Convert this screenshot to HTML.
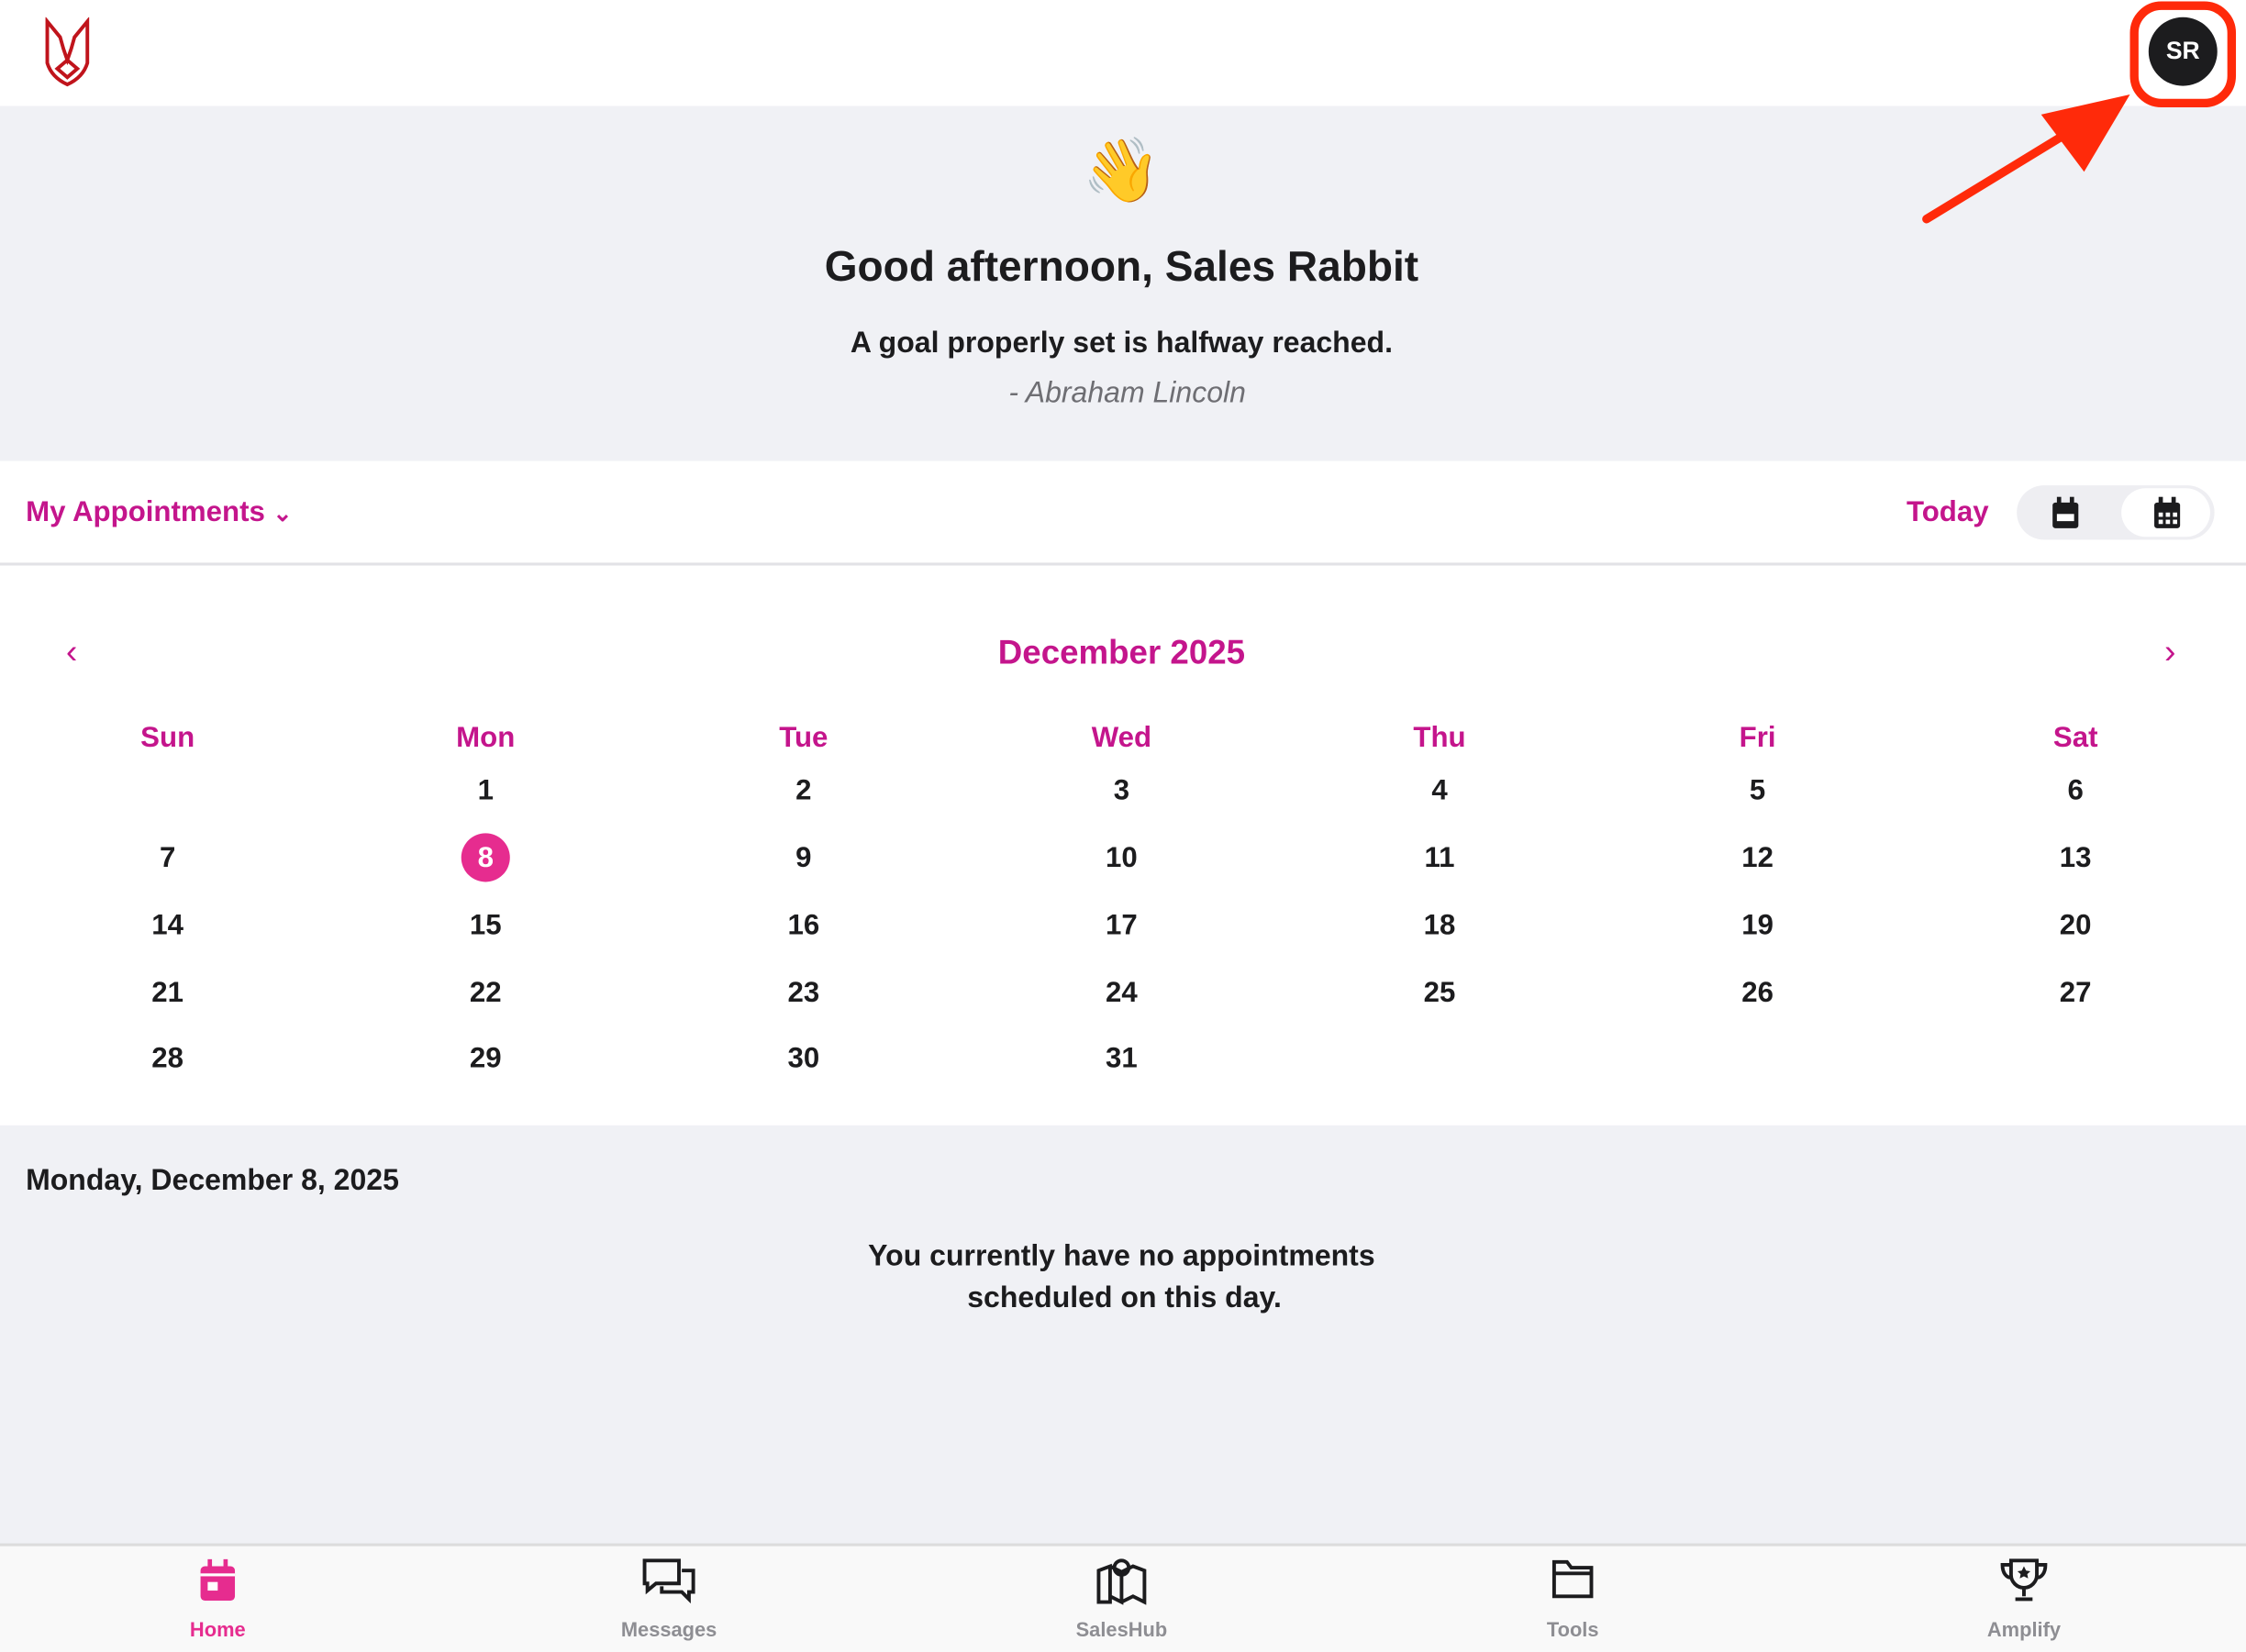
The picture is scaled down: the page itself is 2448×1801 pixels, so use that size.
<!DOCTYPE html>
<html><head><meta charset="utf-8"><style>
html,body{margin:0;padding:0;width:2448px;height:1798px;overflow:hidden;background:#fff}
#w{position:absolute;left:0;top:0;width:1568px;height:1152px;transform:scale(1.5612,1.5608);transform-origin:0 0;font-family:"Liberation Sans",sans-serif;color:#1c1c1e}
.a{position:absolute}
.c{position:absolute;transform:translate(-50%,-50%);white-space:nowrap}
.m{color:#c4158c}
.d{font-size:20px;font-weight:600}
</style></head><body><div id="w">
<div class="a" style="left:0;top:0;width:1568px;height:74px;background:#fff"></div>
<svg class="a" style="left:28px;top:12px" width="38" height="50" viewBox="0 0 38 50"><path d="M5 3 L5 32 Q8 42 19 47 Q30 42 33 32 L33 3 L24 14 Q22 22 19 30 Q16 22 14 14 Z M19 30 L12 36 L19 42 L26 36 Z" fill="none" stroke="#c0141c" stroke-width="2.5"/></svg>
<div class="a" style="left:0;top:74px;width:1568px;height:248px;background:#f0f1f5"></div>
<div class="c" style="left:783px;top:119px;font-size:44px">👋</div>
<div class="c" style="left:783px;top:187px;font-size:29.5px;font-weight:bold">Good afternoon, Sales Rabbit</div>
<div class="c" style="left:783px;top:240px;font-size:20.5px;font-weight:600">A goal properly set is halfway reached.</div>
<div class="c" style="left:787px;top:275px;font-size:20.5px;font-style:italic;color:#6e6e73">- Abraham Lincoln</div>
<div class="a" style="left:0;top:322px;width:1568px;height:71px;background:#fff;border-bottom:2px solid #e2e2e6"></div>
<div class="a m" style="left:18px;top:347px;font-size:20px;font-weight:600">My Appointments <span style="font-size:16px">&#8964;</span></div>
<div class="a m" style="left:1331px;top:347px;font-size:20px;font-weight:600">Today</div>
<div class="a" style="left:1408px;top:339px;width:138px;height:38px;border-radius:19px;background:#eeeef2"></div>
<div class="a" style="left:1481px;top:341px;width:62px;height:34px;border-radius:17px;background:#fff"></div>
<svg class="a" style="left:1431px;top:347px" width="22" height="24"><rect x="2" y="4" width="18" height="18" rx="2" fill="#1c1c1e"/><rect x="5" y="0" width="3" height="6" fill="#1c1c1e"/><rect x="14" y="0" width="3" height="6" fill="#1c1c1e"/><rect x="5" y="12" width="12" height="5" fill="#fff"/></svg>
<svg class="a" style="left:1502px;top:347px" width="22" height="24"><rect x="2" y="4" width="18" height="18" rx="2" fill="#1c1c1e"/><rect x="5" y="0" width="3" height="6" fill="#1c1c1e"/><rect x="14" y="0" width="3" height="6" fill="#1c1c1e"/><g fill="#fff"><rect x="5" y="11" width="3" height="3"/><rect x="10" y="11" width="3" height="3"/><rect x="15" y="11" width="3" height="3"/><rect x="5" y="16" width="3" height="3"/><rect x="10" y="16" width="3" height="3"/><rect x="15" y="16" width="3" height="3"/></g></svg>
<div class="c m" style="left:50px;top:456px;font-size:24px">&#8249;</div>
<div class="c m" style="left:1515px;top:456px;font-size:24px">&#8250;</div>
<div class="c m" style="left:783px;top:456px;font-size:23.5px;font-weight:600">December 2025</div>
<div class="c m" style="left:117px;top:516px;font-size:20px;font-weight:600">Sun</div>
<div class="c m" style="left:339px;top:516px;font-size:20px;font-weight:600">Mon</div>
<div class="c m" style="left:561px;top:516px;font-size:20px;font-weight:600">Tue</div>
<div class="c m" style="left:783px;top:516px;font-size:20px;font-weight:600">Wed</div>
<div class="c m" style="left:1005px;top:516px;font-size:20px;font-weight:600">Thu</div>
<div class="c m" style="left:1227px;top:516px;font-size:20px;font-weight:600">Fri</div>
<div class="c m" style="left:1449px;top:516px;font-size:20px;font-weight:600">Sat</div>
<div class="a" style="left:322px;top:582px;width:34px;height:34px;border-radius:50%;background:#e62c8f"></div>
<div id="days"></div>
<div class="a" style="left:0;top:786px;width:1568px;height:293px;background:#f0f1f5"></div>
<div class="a" style="left:18px;top:813px;font-size:20.5px;font-weight:600">Monday, December 8, 2025</div>
<div class="c" style="left:783px;top:878px;font-size:20.5px;font-weight:600">You currently have no appointments</div>
<div class="c" style="left:785px;top:907px;font-size:20.5px;font-weight:600">scheduled on this day.</div>
<div class="a" style="left:0;top:1078px;width:1568px;height:74px;background:#f9f9f9;border-top:2px solid #dcdcdc"></div>
<svg class="a" style="left:139px;top:1089px" width="26" height="30"><rect x="1" y="5" width="24" height="24" rx="3" fill="#e62c8f"/><rect x="6" y="0" width="3" height="7" fill="#e62c8f"/><rect x="17" y="0" width="3" height="7" fill="#e62c8f"/><rect x="1" y="10" width="24" height="2" fill="#fff"/><rect x="6" y="16" width="7" height="6" fill="#fff"/></svg>
<svg class="a" style="left:448px;top:1088px" width="40" height="32" fill="none" stroke="#1c1c1e" stroke-width="2.5"><path d="M2 2h24v16H10l-6 5v-5H2z"/><path d="M28 9h8v15h-3v5l-5-5H14v-4"/></svg>
<svg class="a" style="left:765px;top:1087px" width="36" height="34" fill="none" stroke="#1c1c1e" stroke-width="2.5"><path d="M2 10l8-3v25l-8 0z M10 7l8 4v21l-8-4 M18 11l8-4 8 3v22l-8-4-8 4"/><circle cx="18" cy="8" r="5"/></svg>
<svg class="a" style="left:1083px;top:1089px" width="30" height="28" fill="none" stroke="#1c1c1e" stroke-width="2.5"><path d="M2 2h9l3 4h14v20H2z M2 10h26"/></svg>
<svg class="a" style="left:1396px;top:1088px" width="34" height="32" fill="none" stroke="#1c1c1e" stroke-width="2.5"><path d="M8 2h18v10a9 9 0 0 1-18 0z M8 5H2c0 6 3 9 6 9 M26 5h6c0 6-3 9-6 9 M17 21v6 M11 29h12"/><path d="M17 6l1.5 3 3 .5-2.2 2 .6 3-2.9-1.5-2.9 1.5.6-3-2.2-2 3-.5z" fill="#1c1c1e" stroke="none"/></svg>
<div class="c" style="left:152px;top:1138px;font-size:14px;font-weight:bold;color:#e62c8f">Home</div>
<div class="c" style="left:467px;top:1138px;font-size:14px;font-weight:bold;color:#8e8e93">Messages</div>
<div class="c" style="left:783px;top:1138px;font-size:14px;font-weight:bold;color:#8e8e93">SalesHub</div>
<div class="c" style="left:1098px;top:1138px;font-size:14px;font-weight:bold;color:#8e8e93">Tools</div>
<div class="c" style="left:1413px;top:1138px;font-size:14px;font-weight:bold;color:#8e8e93">Amplify</div>
<div class="a" style="left:1500px;top:12px;width:48px;height:48px;border-radius:50%;background:#1c1c1e;color:#fff;font-size:17px;font-weight:bold;text-align:center;line-height:48px">SR</div>
<div class="a" style="left:1487px;top:1px;border:6px solid #ff2a0a;border-radius:22px;box-sizing:border-box;width:74px;height:74px"></div>
<svg class="a" style="left:0;top:0" width="1568" height="200"><line x1="1345" y1="153" x2="1440" y2="95" stroke="#ff2a0a" stroke-width="6" stroke-linecap="round"/><polygon points="1487,66 1425,80 1455,120" fill="#ff2a0a"/></svg>
</div>
<script>
var h='',rows=[553,600,647,694,740],d=1;
for(var r=0;r<5;r++)for(var c=0;c<7;c++){if(r==0&&c==0)continue;if(d>31)break;
h+='<div class="c d" style="left:'+(117+222*c)+'px;top:'+rows[r]+'px;'+(d==8?'color:#fff':'')+'">'+d+'</div>';d++;}
document.getElementById('days').outerHTML=h;
</script>
</body></html>
